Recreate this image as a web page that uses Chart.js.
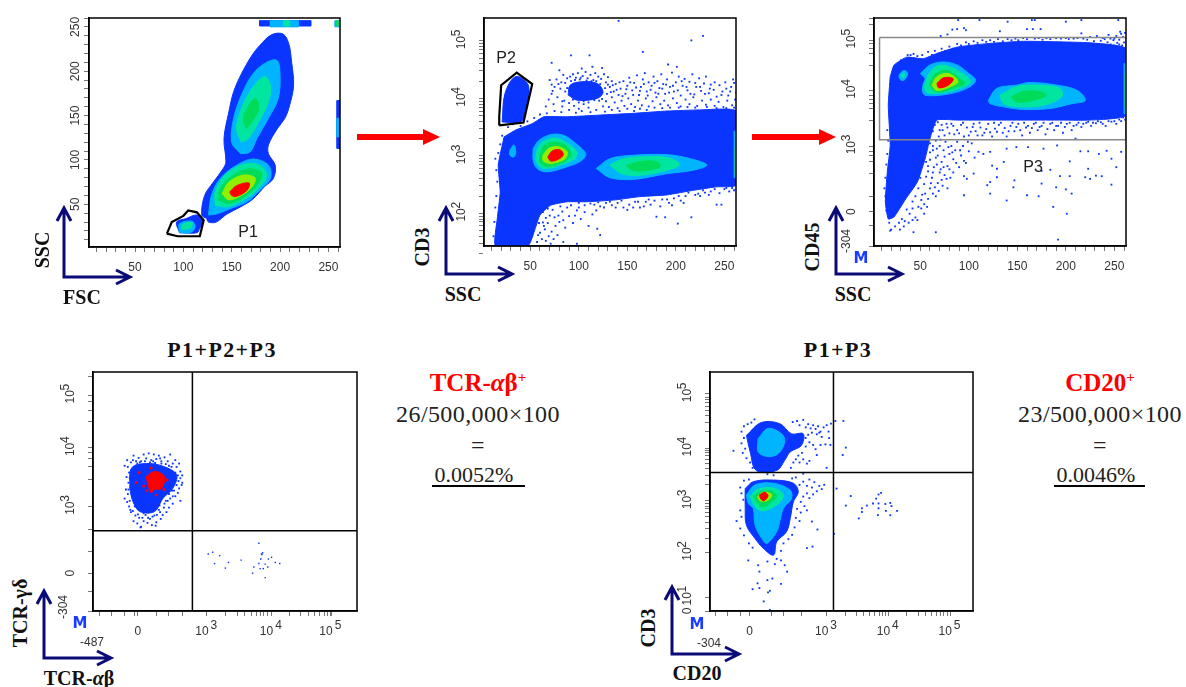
<!DOCTYPE html>
<html>
<head>
<meta charset="utf-8">
<script src="https://cdn.jsdelivr.net/npm/chart.js@4/dist/chart.umd.js"></script>
<style>
html,body{margin:0;padding:0;background:#fff;width:1186px;height:687px;overflow:hidden}
.plot{position:absolute}
.t{position:absolute;white-space:nowrap;transform-origin:center}
.ax{font:bold 20px "Liberation Serif",serif;color:#111}
.title{font:bold 22px "Liberation Serif",serif;color:#111;letter-spacing:1.4px}
.hit{font:bold 25px "Liberation Serif",serif;color:#f00}
.hit sup{font-size:15px;line-height:0}
.calc{font:24px "Liberation Serif",serif;color:#222;letter-spacing:.4px}
.calc2{font:22px "Liberation Serif",serif;color:#222}
.gate{font:16px "Liberation Sans",sans-serif;color:#222}
.small{font:12px "Liberation Sans",sans-serif;color:#333}
.m{font:bold 15px "DejaVu Sans",sans-serif;color:#1a3cff}
svg{position:absolute;left:0;top:0}
</style>
</head>
<body>
<svg width="1186" height="687">
  <g fill="none" stroke="#0a0a78" stroke-width="3">
    <path d="M64 208V277H129M57 221L64 208L71 221M116 270L130 277L116 284"/>
    <path d="M446 208V274H511M439 221L446 208L453 221M498 267L512 274L498 281"/>
    <path d="M836 208V274H901M829 221L836 208L843 221M888 267L902 274L888 281"/>
    <path d="M44 591V658H110M37 604L44 591L51 604M97 651L111 658L97 665"/>
    <path d="M672 587V654H738M665 600L672 587L679 600M725 647L739 654L725 661"/>
  </g>
  <g fill="#f00">
    <path d="M357 134H423V129L440 137L423 145V140H357Z"/>
    <path d="M752 134H819V129L836 137L819 145V140H752Z"/>
  </g>
  <g stroke="#000" stroke-width="2">
    <path d="M432 486H525M1054 486H1145"/>
  </g>
</svg>
<div class="plot" style="left:39px;top:12px;width:307px;height:271px"><canvas id="plot1"></canvas></div>
<div class="plot" style="left:434px;top:12px;width:308px;height:270px"><canvas id="plot2"></canvas></div>
<div class="plot" style="left:824px;top:12px;width:308px;height:270px"><canvas id="plot3"></canvas></div>
<div class="plot" style="left:43px;top:366px;width:320px;height:281px"><canvas id="plot4"></canvas></div>
<div class="plot" style="left:660px;top:366px;width:319px;height:281px"><canvas id="plot5"></canvas></div>
<div id="texts"></div>
<script>
// shared tick positions
const scatterTicks = [10,20,30,40,50,60,70,80,90,100,110,120,130,140,150,160,170,180,190,200,210,220,230,240,250,260];
const scatterLabels = {50:'50',100:'100',150:'150',200:'200',250:'250'};
const decadeSteps = [0.3,0.48,0.6,0.7,0.78,0.85,0.9,0.95];

// plot 1: SSC vs FSC
const p1Blue = [[124,34],[119,38],[122,60],[131,75],[141,90],[144,98],[142,124],[147,154],[152,177],[160,197],[171,218],[179,229],[191,241],[203,242],[209,231],[212,210],[214,184],[210,162],[205,147],[197,135],[188,117],[188,107],[195,94],[193,79],[184,70],[172,56],[159,47],[145,39],[134,30],[126,30]];
const p1UpperCyan = [[159,107],[150,120],[152,147],[160,173],[172,197],[186,210],[197,212],[200,195],[198,169],[188,147],[176,124],[169,109]];
const p1UpperSpring = [[160,120],[155,135],[160,158],[172,182],[184,194],[190,184],[188,165],[178,143],[167,124]];
const p1UpperGreen = [[165,135],[162,147],[169,164],[175,169],[178,158],[172,145]];
const p1LowerCyan = [[126,38],[129,60],[138,79],[155,94],[172,101],[188,94],[190,79],[179,66],[166,53],[148,45],[134,39]];
const p1LowerSpring = [[133,49],[133,64],[143,83],[162,95],[179,94],[186,83],[176,66],[159,53],[145,47]];
const p1LowerGreen = [[136,55],[138,68],[152,83],[169,90],[181,85],[176,71],[162,58],[147,51]];
const p1LowerLime = [[140,62],[147,75],[162,83],[174,80],[172,71],[160,60],[147,55]];
const p1LowerRed = [[148,64],[155,71],[168,74],[166,66],[155,59],[150,60]];
const p1SmallBlue = [[96,18],[93,30],[103,34],[114,38],[121,32],[117,23],[114,18]];
const p1SmallCyan = [[96,18],[96,28],[109,31],[112,24],[107,18]];
const p1SmallGreen = [[98,22],[100,28],[109,29],[107,23]];
const p1TopBlue = [[179,251],[232,251],[232,257],[179,257]];
const p1TopCyan = [[190,250],[219,250],[219,257],[190,257]];
const p1TopGreen = [[204,251],[210,251],[210,257],[204,257]];
const p1EdgeBlue = [[259,113],[262,113],[262,167],[259,167]];
const p1EdgeCyan = [[259,126],[261,126],[261,147],[259,147]];
const p1CornerCyan = [[257,250],[262,250],[262,257],[257,257]];
const p1CornerGreen = [[259,251],[262,251],[262,257],[259,257]];
const p1Gate = [[83,17],[88,30],[100,37],[105,43],[114,41],[121,32],[117,14],[94,14],[83,17]];

// plot 2: CD3 vs SSC (y in display decades)
const p2Blue = [[23,3.33],[35,3.45],[52,3.56],[64,3.68],[88,3.68],[122,3.71],[156,3.74],[191,3.78],[225,3.8],[262,3.78],[262,2.49],[242,2.46],[218,2.4],[191,2.32],[163,2.29],[136,2.23],[108,2.2],[88,2.2],[71,2.14],[60,1.97],[55,1.73],[48,1.44],[14,1.44],[16,1.91],[19,2.37],[17,2.84]];
const p2CloudBlue = [[89,4.06],[91,4.23],[103,4.29],[119,4.26],[125,4.11],[119,4],[98,3.97]];
const p2GateFill = [[21,3.59],[24,4.09],[35,4.38],[48,4.23],[45,3.77],[40,3.59]];
const p2Gate = [[18,3.53],[18,3.68],[20,4.23],[36,4.45],[52,4.25],[43,3.58],[18,3.53]];
const p2SpotCyan = [[29,3.1],[33,3.19],[35,3.07],[33,2.98],[29,3.01]];
const p2ACyan = [[53,3.13],[59,3.27],[71,3.37],[84,3.36],[95,3.24],[107,3.04],[103,2.92],[88,2.81],[67,2.72],[57,2.78],[53,2.92]];
const p2ASpring = [[57,3.1],[62,3.23],[74,3.31],[86,3.24],[98,3.07],[96,2.95],[81,2.84],[64,2.78],[56,2.9]];
const p2AGreen = [[60,3.04],[65,3.19],[77,3.24],[88,3.16],[92,3.01],[81,2.87],[67,2.81],[60,2.9]];
const p2ALime = [[63,3.01],[69,3.13],[79,3.16],[88,3.07],[86,2.95],[76,2.88],[69,2.87],[63,2.92]];
const p2ARed = [[68,2.98],[73,3.09],[81,3.1],[84,3.02],[79,2.94],[71,2.91]];
const p2BCyan = [[118,2.78],[132,2.95],[156,3.01],[191,3.02],[215,2.95],[232,2.84],[218,2.75],[191,2.69],[156,2.59],[132,2.62]];
const p2BSpring = [[132,2.84],[144,2.94],[163,2.98],[191,2.97],[204,2.85],[191,2.75],[163,2.66],[144,2.69]];
const p2BGreen = [[149,2.83],[163,2.9],[180,2.9],[184,2.81],[167,2.74],[155,2.75]];
const p2EdgeCyan = [[260,3.43],[262,3.43],[262,2.62],[260,2.62]];
const p2EdgeGreen = [[261,3.13],[262,3.13],[262,2.66],[261,2.66]];
const p2Dots = [[141,5.35],[216,5.01],[228,5.09],[166,4.81],[92,4.75],[111,4.75],[72,4.62],[192,4.59],[201,4.55],[114,4.55],[103,4.52],[80,4.49],[124,4.53],
[70,4.32],[72,4.24],[75,4.2],[77,4.33],[81,4.17],[82,4.28],[84,4.41],[86,4.12],[88,4.35],[91,4.38],[94,4.42],[97,4.36],[99,4.44],[101,4.33],[104,4.39],[107,4.46],[109,4.35],[112,4.41],[115,4.32],[117,4.44],[120,4.38],[123,4.34],[126,4.42],[128,4.28],[130,4.37],[132,4.2],[134,4.3],[136,4.12],[138,4.25],[141,4.06],[143,4.17],[146,4.3],[148,4.08],[150,4.22],[152,4.36],[155,4.14],[157,4.27],[160,4.4],[162,4.06],[164,4.2],[166,4.33],[168,4.44],[170,4.12],[172,4.28],[175,4.22],[177,4.38],[179,4.1],[181,4.3],[183,4.18],[185,4.42],[187,4.25],[189,4.08],[191,4.33],[194,4.2],[196,4.45],[198,4.12],[200,4.28],[203,4.38],[205,4.05],[207,4.22],[209,4.34],[212,4.14],[214,4.29],[217,4.42],[219,4.07],[221,4.2],[224,4.35],[226,4.13],[229,4.26],[231,4.38],[234,4.09],[236,4.24],[239,4.15],[242,4.03],[245,4.23],[248,4.12],[251,4.28],[254,4.05],[257,4.2],[260,4.27],[262,4.1],
[66,3.86],[69,3.98],[72,4.08],[74,3.9],[78,4.02],[83,3.86],[85,3.96],[95,3.87],[100,3.82],[105,3.9],[110,3.84],[125,3.86],[128,3.95],[131,3.85],[134,4.02],[137,3.93],[140,3.83],[144,3.96],[147,3.87],[151,4.0],[154,3.9],[158,3.85],[161,3.96],[165,3.88],[169,4.0],[172,3.86],[176,3.95],[180,4.02],[184,3.9],[188,3.96],[192,3.88],[197,4.0],[201,3.92],[205,3.86],[210,3.98],[214,3.9],[218,4.02],[222,3.87],[227,3.96],[231,3.89],[236,3.98],[240,3.87],[244,3.94],[249,3.85],[253,3.96],[258,3.88],[261,3.98],
[116,2.15],[122,2.12],[128,2.18],[134,2.14],[140,2.18],[146,2.1],[152,2.15],[158,2.2],[163,2.1],[169,2.2],[174,2.15],[180,1.94],[186,2.24],[189,1.93],[193,2.18],[198,2.26],[202,1.82],[205,2.22],[210,2.3],[216,1.93],[220,2.32],[225,2.3],[230,2.36],[236,2.38],[242,2.15],[247,2.15],[250,2.42],[255,2.38],[260,2.4],
[122,1.62],[119,1.73],[98,1.47],[84,1.5],[71,1.47],[62,1.55],[65,1.72],[68,1.83],[72,1.68],[75,1.93],[78,1.62],[80,1.85],[83,2.03],[86,1.75],[90,1.95],[94,1.83],[98,2.05],[102,1.9],[106,2.02],[110,1.78],[114,1.98],[118,2.05],[57,1.5],[59,1.83],[63,2.02],[68,2.08],[56,1.95],[60,2.1]];
const p2DotsDense = [[73,4.13],[79,4.25],[83,3.95],[86,4.27],[88,4.18],[90,3.92],[92,4.3],[94,3.98],[96,4.32],[100,3.93],[102,4.36],[105,3.95],[108,4.31],[110,3.93],[113,4.3],[116,3.97],[118,4.3],[121,3.96],[122,4.25],[124,3.99],[127,4.18],[129,4.08],[130,4.24],[133,4.11],[135,4.23],[139,4.15],[142,4.28],[145,4.04],[149,4.16],[153,4.28],[156,4.06],[159,4.19],[163,4.13],[167,4.25],[171,4.05],[174,4.15],[178,4.27],[182,4.08],[186,4.17],[190,4.24],[193,4.1],[197,4.22],[202,4.14],[206,4.3],[211,4.2],[215,4.08],[220,4.27],[225,4.2],[230,4.08],[235,4.17],[240,4.28],[247,4.06],[252,4.17],[256,4.12],[259,4.33],
[67,3.74],[75,3.78],[82,3.76],[90,3.8],[97,3.75],[103,3.78],[112,3.76],[118,3.8],[127,3.77],[134,3.8],[142,3.78],[150,3.82],[157,3.78],[163,3.82],[170,3.8],[178,3.84],[186,3.83],[194,3.84],[203,3.84],[212,3.85],[220,3.84],[232,3.85],[242,3.83],[252,3.83],[260,3.84],
[100,2.18],[106,2.14],[112,2.17],[120,2.19],[126,2.1],[132,2.2],[138,2.1],[144,2.22],[150,2.06],[156,2.1],[161,2.2],[167,2.12],[172,2.24],[178,2.22],[184,2.12],[191,2.24],[196,2.14],[203,2.3],[208,2.18],[213,2.36],[223,2.34],[228,2.4],[234,2.32],[240,2.42],[245,2.35],[252,2.44],[258,2.44],
[64,1.78],[66,1.92],[70,1.96],[73,2.06],[76,1.78],[79,1.96],[81,2.12],[84,1.88],[88,2.1],[92,2.14],[96,1.96],[100,2.1],[60,1.66],[63,1.84],[69,1.6],[74,1.55],[58,1.62],[66,1.52],[12,1.6],[13,1.85],[14,2.1],[15,2.3],[16,2.55],[15,2.75],[14,2.95],[17,3.05],[19,3.2],[21,3.35],[27,3.5],[32,3.55],[40,3.52],[47,3.6],[54,3.66],[60,3.72]];

// plot 3: CD45 vs SSC
const p3Blue = [[19,4.31],[23,4.53],[36,4.68],[53,4.65],[67,4.75],[88,4.87],[105,4.91],[122,4.94],[156,4.98],[191,4.97],[225,4.95],[262,4.84],[262,3.58],[225,3.49],[191,3.49],[156,3.49],[122,3.49],[88,3.49],[67,3.49],[60,3.14],[55,2.76],[47,2.32],[35,2],[23,1.66],[17,1.62],[14,1.94],[16,2.51],[19,3.01],[17,3.77]];
const p3SpotCyan = [[28,4.34],[33,4.43],[37,4.37],[33,4.24],[29,4.26]];
const p3SpotGreen = [[30,4.34],[33,4.38],[34,4.32],[32,4.29]];
const p3ACyan = [[50,4.37],[60,4.53],[74,4.59],[88,4.53],[98,4.4],[107,4.24],[98,4.09],[81,3.99],[60,3.95],[53,3.99],[53,4.18],[55,4.27]];
const p3ASpring = [[54,4.12],[60,4.4],[71,4.53],[88,4.43],[102,4.22],[91,4.09],[74,4.01],[57,4.01]];
const p3AGreen = [[59,4.15],[64,4.34],[77,4.43],[91,4.27],[96,4.18],[84,4.09],[67,4.02]];
const p3ALime = [[62,4.15],[67,4.31],[79,4.37],[89,4.22],[81,4.12],[67,4.05]];
const p3ARed = [[67,4.18],[74,4.29],[84,4.27],[79,4.15],[69,4.1]];
const p3BCyan = [[120,3.86],[129,4.09],[149,4.15],[163,4.2],[191,4.15],[212,4.05],[220,3.86],[206,3.8],[184,3.71],[156,3.69],[136,3.74],[122,3.8]];
const p3BSpring = [[132,3.96],[149,4.12],[170,4.15],[194,4.09],[196,3.93],[177,3.77],[153,3.74],[136,3.8]];
const p3BGreen = [[144,3.93],[156,4.03],[173,4.03],[180,3.96],[166,3.86],[149,3.83]];
const p3EdgeCyan = [[260,4.56],[262,4.56],[262,3.61],[260,3.61]];
const p3EdgeGreen = [[261,4.37],[262,4.37],[262,3.71],[261,3.71]];
const p3Gate = [[8,5.05],[262,5.05],[262,3.12],[8,3.12],[8,5.05]];
const p3Dots = [[89,5.38],[111,5.38],[140,5.35],[165,5.38],[168,5.38],[200,5.35],[216,5.38],[254,5.38],[83,5.2],[88,5.21],[95,5.23],[97,5.19],[160,5.21],[166,5.21],[174,5.21],[132,5.17],[216,5.13],[256,5.16],[71,5.08],[78,5.11],
[225,5.06],[232,5.08],[238,5.04],[244,5.1],[250,5.03],[252,5.08],[257,5.12],[259,5.06],[261,5.14],[236,4.99],[246,4.92],[253,4.95],[258,4.9],[240,4.88],[249,5],[255,5.01],[229,4.98],[222,5.01],[212,5.04],[203,5.02],[195,5.03],[184,5.02],[176,5.01],[168,5.03],[160,5.02],[151,5],[144,5],[135,4.98],[126,4.97],[118,4.97],[109,4.95],[100,4.93],[92,4.9],[84,4.84],[76,4.8],[62,4.72],[47,4.7],[40,4.72],[30,4.62],
[20,3.3],[22,3.1],[19,3.45],[24,3.25],[26,3.05],[28,3.4],[30,3.2],[68,3.45],[70,3.3],[72,3.4],[75,3.2],[78,3.35],[82,3.42],[85,3.22],[88,3.3],[92,3.4],[95,3.18],[98,3.35],[102,3.27],[105,3.42],[109,3.2],[112,3.35],[116,3.25],[120,3.42],[124,3.18],[127,3.33],[131,3.4],[135,3.25],[139,3.18],[143,3.38],[147,3.28],[151,3.42],[155,3.2],[159,3.35],[163,3.25],[167,3.42],[171,3.3],[175,3.38],[179,3.22],[184,3.42],[188,3.3],[192,3.38],[197,3.25],[201,3.42],[206,3.3],[211,3.4],[216,3.36],[221,3.44],[226,3.38],[231,3.43],[236,3.45],[241,3.38],[247,3.46],[252,3.42],[257,3.47],[261,3.5],
[43,1.37],[66,1.37],[192,1.23],[201,1.72],[187,1.85],[172,2.05],[160,2.07],[139,1.97],[190,2.22],[200,2.18],[206,2.1],[122,2.1],[95,2.07],[119,2.26],[147,2.35],[175,2.29],[194,2.43],[204,2.43],[220,2.41],[225,2.38],[231,2.44],[237,2.43],[247,2.27],[252,2.6],[223,2.57],[247,2.76],[242,2.91],[257,2.89],[234,2.85],[223,2.9],[215,2.9],[204,2.71],[184,2.55],[175,2.53],[129,2.57],[124,2.63],[105,2.48],[98,2.38],[95,2.43],[122,2.32],[146,2.22],[129,2.41],[136,2.7],[115,2.85],[110,2.89],[122,2.89],[139,2.95],[149,2.98],[161,2.98],[177,2.95],[191,3.01],[210,3.14],
[60,3.05],[63,2.92],[66,3.1],[68,2.82],[70,3],[72,2.7],[74,2.92],[76,3.08],[78,2.62],[80,2.85],[82,3],[84,2.75],[86,2.92],[88,3.08],[90,2.6],[92,2.82],[94,3],[97,2.68],[100,2.9],[103,3.05],[106,2.78],[56,2.7],[58,2.52],[60,2.74],[62,2.4],[64,2.6],[66,2.78],[68,2.3],[70,2.5],[72,2.36],[75,2.45],[78,2.2],[81,2.4],[48,2.2],[50,2.4],[52,2.08],[54,2.28],[56,2.42],[58,2],[60,2.2],[63,2.1],[42,1.95],[45,2.05],[48,1.85],[51,1.98],[54,1.9],[57,1.85],[66,2.05],[36,1.8],[39,1.72],[42,1.82],[45,1.65],[28,1.55],[31,1.62],[34,1.58],[20,1.42],[24,1.48],[18,1.55]];
const p3DotsDense = [[63,3.28],[65,3.4],[69,3.18],[73,3.3],[77,3.42],[80,3.24],[84,3.38],[90,3.24],[94,3.44],[100,3.2],[104,3.36],[107,3.28],[111,3.44],[114,3.2],[118,3.32],[122,3.26],[126,3.44],[129,3.27],[133,3.44],[137,3.34],[141,3.28],[145,3.44],[149,3.36],[153,3.3],[157,3.44],[161,3.38],[165,3.34],[169,3.44],[173,3.36],[177,3.44],[181,3.32],[186,3.44],[190,3.38],[195,3.44],[199,3.36],[204,3.44],[208,3.38],[213,3.44],[218,3.42],[223,3.46],[228,3.44],[233,3.47],[238,3.42],[244,3.47],[250,3.47],[255,3.5],[259,3.54],
[63,3.0],[67,2.95],[71,3.12],[75,2.8],[79,2.98],[83,2.88],[87,2.68],[91,2.92],[95,2.72],[99,3.08],[60,2.88],[58,2.62],[63,2.5],[67,2.65],[71,2.56],[74,2.6],[77,2.38],[80,2.56],[84,2.5],[61,2.3],[65,2.22],[69,2.15],[73,2.25],[55,2.1],[51,1.82],[54,1.72],[47,1.6],[42,1.6],[38,1.55],[33,1.48],[29,1.42],[13,2.2],[14,2.4],[15,2.65],[16,2.85],[17,3.1],[16,3.3],[14,2.05],[15,1.78],[19,1.4],
[37,4.72],[43,4.74],[52,4.72],[58,4.78],[65,4.8],[72,4.84],[80,4.88],[88,4.93],[97,4.96],[105,4.98],[114,5],[122,5],[130,5.02],[140,5.02],[148,5.03],[156,5.04],[172,5.04],[180,5.04],[190,5.04],[200,5.04],[208,5.03],[218,5.03],[240,5.02],[246,5.03],[233,4.93],[243,4.96],[250,4.9],[255,4.92],[260,4.96]];

// plot 4: TCR-gamma-delta vs TCR-alpha-beta
const p4Blue = [[1.78,3.32],[1.81,3.68],[2.04,3.76],[2.31,3.71],[2.52,3.56],[2.46,3.32],[2.31,3.15],[2.17,2.91],[1.94,2.91],[1.83,3.09]];
const p4Red = [[2.04,3.53],[2.17,3.62],[2.33,3.53],[2.28,3.32],[2.17,3.3],[2.12,3.24],[2.07,3.38]];
const p4Dots = [[1.7,3.72],[1.74,3.82],[1.8,3.78],[1.84,3.9],[1.88,3.8],[1.92,3.86],[1.96,3.8],[2,3.92],[2.04,3.85],[2.08,3.94],[2.12,3.82],[2.16,3.92],[2.2,3.84],[2.24,3.9],[2.28,3.8],[2.33,3.87],[2.38,3.8],[2.42,3.92],[2.46,3.76],[2.5,3.82],[2.52,3.7],[2.56,3.76],[2.58,3.62],[2.61,3.55],[2.58,3.5],[2.61,3.42],[2.56,3.32],[2.6,3.38],[2.54,3.24],[2.58,3.1],[2.5,3.18],[2.46,3.05],[2.42,3.14],[2.4,2.98],[2.36,2.9],[2.33,3.05],[2.3,2.85],[2.27,2.78],[2.24,2.94],[2.2,2.72],[2.17,2.84],[2.13,2.67],[2.1,2.78],[2.06,2.71],[2.03,2.85],[2,2.74],[1.96,2.64],[1.93,2.8],[1.9,2.7],[1.87,2.84],[1.84,2.74],[1.8,2.9],[1.77,3],[1.74,3.08],[1.7,3.14],[1.75,3.22],[1.72,3.3],[1.76,3.42],[1.73,3.52],[1.77,3.6],[1.79,2.94],[1.95,2.63],[2.19,2.66],[2.45,3.28],[2.48,3.42],[2.55,3.45],[2.4,3.72],[2.28,3.76],[2.15,3.8],[1.98,3.73],[1.88,3.72],[1.84,3.6],[1.82,3.48],[1.8,3.35],[1.82,3.2],[1.86,3],[2,2.88],[2.25,3.02],[2.35,3.1],
[1.75,3.7],[1.83,3.82],[1.9,3.76],[1.94,3.78],[2.02,3.8],[2.1,3.78],[2.18,3.77],[2.26,3.85],[2.35,3.75],[2.44,3.7],[2.5,3.6],[2.54,3.55],[2.5,3.5],[2.52,3.38],[2.48,3.28],[2.46,3.18],[2.4,3.22],[2.38,3.1],[2.32,2.98],[2.26,2.9],[2.21,2.85],[2.14,2.82],[2.07,2.8],[1.98,2.8],[1.91,2.86],[1.83,2.92],[1.78,3.1],[1.76,3.3],[1.78,3.5]];
const p4Reds = [[1.88,3.42],[1.93,3.6],[2,3.36],[2.05,3.28],[2.2,3.2],[2.37,3.47],[2.32,3.3],[2.12,3.68]];
const p4Lower = [[3.02,2.16],[3.09,2.19],[3.2,2.13],[3.12,1.99],[3.34,2.01],[3.29,1.91],[3.54,2.05],[3.82,2.35],[3.88,2.18],[3.86,2.16],[3.87,2.15],[3.85,2.07],[3.82,1.99],[3.74,1.93],[3.72,1.82],[3.84,1.9],[3.89,1.9],[3.96,1.93],[3.92,1.98],[3.97,2.07],[4.02,2.1],[4.08,2.01],[4.15,1.99],[3.92,1.74]];
const p4GateV = [[2.77,1.15],[2.77,5.38]];
const p4GateH = [[1.2,2.57],[5.37,2.57]];

// plot 5: CD3 vs CD20
const p5UpperBlue = [[1.7,4.23],[1.94,4.47],[2.24,4.45],[2.43,4.26],[2.62,4.26],[2.59,4.04],[2.41,3.92],[2.32,3.76],[2.19,3.57],[1.86,3.57],[1.76,3.92]];
const p5UpperCyan = [[1.89,4.17],[2.05,4.36],[2.27,4.26],[2.32,4.11],[2.22,3.89],[2.05,3.83],[1.89,3.92]];
const p5LowerBlue = [[1.68,3.23],[1.81,3.36],[2.14,3.39],[2.46,3.33],[2.54,3.17],[2.46,2.98],[2.41,2.67],[2.35,2.42],[2.19,2.23],[2.14,1.98],[1.97,2.11],[1.84,2.29],[1.7,2.54],[1.68,2.86]];
const p5LowerCyan = [[1.7,3.11],[1.84,3.3],[2.14,3.33],[2.41,3.2],[2.43,3.04],[2.3,2.86],[2.24,2.61],[2.19,2.42],[2.03,2.2],[1.95,2.29],[1.84,2.54],[1.81,2.86],[1.73,2.95]];
const p5Spring = [[1.76,3.08],[1.89,3.22],[2.14,3.24],[2.3,3.11],[2.19,2.92],[1.97,2.81],[1.84,2.89]];
const p5Green = [[1.81,3.08],[1.95,3.18],[2.11,3.18],[2.19,3.09],[2.11,2.98],[1.95,2.89]];
const p5Yellow = [[1.88,3.08],[1.97,3.16],[2.11,3.12],[2.05,3.01],[1.92,3]];
const p5Red = [[1.91,3.11],[2,3.16],[2.05,3.09],[1.98,3],[1.93,3.04]];
const p5Dots = [[1.49,3.94],[1.83,4.53],[3.14,4.5],[3.27,4.5],[3.31,4],[3.26,3.86],[3,3.62],[2.62,3.51],[3.16,3.23],[3.39,3.09],[3.31,2.91],[3.88,3.15],[3.84,3.12],[3.8,3.04],[3.84,2.95],[3.84,2.86],[3.83,2.73],[3.75,2.95],[3.65,2.91],[3.57,2.86],[3.57,2.79],[3.52,2.67],[3.95,2.94],[4.03,2.96],[4.05,2.9],[4.14,2.81],[3.96,2.81],[4.03,2.73],[3.12,2.38],[2.85,2.46],[2.76,2.61],[2.77,2.14],[2.68,2.11],
[1.73,1.88],[1.91,1.67],[2.04,1.86],[2.16,1.81],[2.19,1.91],[2.26,1.88],[2.32,1.79],[2.36,1.67],[1.89,1.79],[2.04,1.51],[2.12,1.54],[1.88,1.45],[2.26,1.44],[1.8,1.34],[1.91,1.36],[2.08,1.31],[2.05,1.28],[1.98,1.11],[2.08,0.95],
[2.45,4.48],[2.52,4.5],[2.56,4.42],[2.62,4.52],[2.66,4.38],[2.7,4.44],[2.74,4.36],[2.78,4.42],[2.82,4.35],[2.86,4.4],[2.9,4.3],[2.95,4.38],[3,4.42],[3.03,4.3],[3.07,4.45],[3.04,4.18],[3.06,4.05],[2.98,4.06],[2.92,4.2],[2.88,4.28],[2.84,4.25],[2.76,4.28],[2.7,4.24],[2.66,4.18],[2.72,4.1],[2.78,4.05],[2.66,4.02],[2.6,3.9],[2.54,3.85],[2.62,3.78],[2.56,3.72],[2.5,3.78],[2.46,3.72],[2.42,3.62],[2.82,3.97],[2.84,3.86],[2.68,3.7],[2.72,3.75],[2.9,4.05],
[1.62,4.3],[1.66,4.4],[1.72,4.44],[1.78,4.47],[1.66,4.18],[1.62,4.08],[1.68,3.98],[1.64,3.9],[1.7,3.8],[1.76,3.72],[1.8,3.62],[1.86,3.65],[2.04,3.5],[2.14,3.48],[2.2,3.62],
[2.56,3.3],[2.62,3.36],[2.68,3.28],[2.72,3.4],[2.76,3.25],[2.8,3.35],[2.84,3.18],[2.88,3.28],[2.92,3.22],[2.96,3.3],[2.78,3.12],[2.72,3.05],[2.68,3.14],[2.62,3.08],[2.58,2.98],[2.64,2.9],[2.68,2.82],[2.58,2.78],[2.52,2.85],[2.5,2.68],[2.56,2.62],[2.48,2.5],[2.44,2.36],[2.38,2.28],[2.3,2.2],[2.26,2.06],[1.8,2.12],[1.74,2.2],[1.66,2.35],[1.6,2.48],[1.54,2.62],[1.62,2.7],[1.6,2.82],[1.65,3.02],[1.62,3.14],[1.6,3.25],[1.66,3.38],[1.74,3.4],[2.44,3.42],[2.5,3.44]];
const p5GateV = [[3.11,0.93],[3.11,5.42]];
const p5GateH = [[1.11,3.53],[5.37,3.53]];

// tick positions on the display-decade axes, exponents drawn beside the 10
const p2YExp = {2:'2',3:'3',4:'4',5:'5'};
const p3YExp = {3:'3',4.05:'4',5:'5'};
const p4XExp = {3:'3',4.02:'4',4.96:'5'};
const p4YExp = {3:'3',4.04:'4',4.97:'5'};
const p5XExp = {3:'3',4:'4',5:'5'};
const p5YExp = {1.19:'1',2.03:'2',3:'3',3.99:'4',5.01:'5'};

// density colours, low to high
const blue = '#0a35ff', cyan = '#00b4ff', spring = '#00e6a0', green = '#00dc5a', lime = '#8ef000', red = '#ff0000';

function area(pts, color, tension) {
    return {
        data: pts.concat([pts[0]]).map(p => ({x: p[0], y: p[1]})),
        showLine: true, fill: 'shape', backgroundColor: color,
        borderColor: color, borderWidth: 1, pointRadius: 0, tension: tension === undefined ? 0.35 : tension
    };
}
function bar(pts, color) {
    return area(pts, color, 0);
}
function dots(pts, color, size) {
    return {
        data: pts.map(p => ({x: p[0], y: p[1]})),
        showLine: false, pointStyle: 'rect', pointRadius: size || 1.3,
        pointBackgroundColor: color, pointBorderWidth: 0
    };
}
function gate(pts, color, width) {
    return {
        data: pts.map(p => ({x: p[0], y: p[1]})),
        showLine: true, fill: false, borderColor: color, borderWidth: width,
        pointRadius: 0, tension: 0
    };
}
function withMinor(majors, from, to) {
    let all = majors.slice();
    for (let d = from; d < to; d++) decadeSteps.forEach(s => all.push(d + s));
    return all;
}
function tens(exps, gap, extra) {
    const out = Object.assign({}, extra);
    Object.keys(exps).forEach(k => { out[k] = '10' + gap; });
    return out;
}
function axis(range, ticks, labels, rotate, pad) {
    const sorted = ticks.slice().sort((a, b) => a - b);
    return {
        type: 'linear', min: range[0], max: range[1],
        border: {color: '#000', width: 1.5},
        grid: {drawOnChartArea: false, drawTicks: true, tickLength: 5, tickColor: '#777', tickWidth: 1},
        afterBuildTicks: s => { s.ticks = sorted.map(v => ({value: v})); },
        afterFit: s => {
            if (rotate) s.width = 50; else s.height = 36;
            s.paddingTop = s.paddingBottom = s.paddingLeft = s.paddingRight = 0;
        },
        ticks: {
            autoSkip: false, color: '#333', padding: pad,
            font: {family: '"Liberation Sans"', size: 12},
            minRotation: rotate ? 90 : 0, maxRotation: rotate ? 90 : 0,
            crossAlign: rotate ? 'center' : 'near',
            callback: v => (labels[v] !== undefined ? labels[v] : '')
        }
    };
}
const boxBorder = {
    id: 'boxBorder',
    afterDatasetsDraw(chart) {
        const a = chart.chartArea, c = chart.ctx;
        c.save(); c.strokeStyle = '#000'; c.lineWidth = 1.5;
        c.strokeRect(a.left, a.top, a.right - a.left, a.bottom - a.top);
        c.restore();
    }
};
function makePlot(id, datasets, x, y, xExp, yExp) {
    // later datasets go on top
    datasets.forEach((d, i) => { d.order = -i; });
    const exponents = {
        id: 'exponents',
        afterDraw(chart) {
            const c = chart.ctx, a = chart.chartArea;
            c.save();
            c.fillStyle = '#333';
            c.font = '12px "Liberation Sans"';
            c.textAlign = 'center';
            c.textBaseline = 'middle';
            Object.keys(xExp || {}).forEach(k => {
                c.fillText(xExp[k], chart.scales.x.getPixelForValue(+k) + 7, a.bottom + 15);
            });
            Object.keys(yExp || {}).forEach(k => {
                c.save();
                c.translate(a.left - 27, chart.scales.y.getPixelForValue(+k) - 8);
                c.rotate(-Math.PI / 2);
                c.fillText(yExp[k], 0, 0);
                c.restore();
            });
            c.restore();
        }
    };
    new Chart(document.getElementById(id), {
        type: 'scatter',
        data: {datasets},
        plugins: [boxBorder, exponents],
        options: {
            responsive: true, maintainAspectRatio: false, animation: false,
            layout: {autoPadding: false, padding: {top: 6, right: 6}},
            plugins: {legend: {display: false}, tooltip: {enabled: false}},
            scales: {x, y}
        }
    });
}

makePlot('plot1', [
    area(p1Blue, blue), area(p1UpperCyan, cyan), area(p1UpperSpring, spring), area(p1UpperGreen, green),
    area(p1LowerCyan, cyan), area(p1LowerSpring, spring), area(p1LowerGreen, green), area(p1LowerLime, lime), area(p1LowerRed, red),
    area(p1SmallBlue, blue), area(p1SmallCyan, cyan), area(p1SmallGreen, spring),
    bar(p1TopBlue, blue), bar(p1TopCyan, cyan), bar(p1TopGreen, spring),
    bar(p1EdgeBlue, blue), bar(p1EdgeCyan, cyan), bar(p1CornerCyan, cyan), bar(p1CornerGreen, green),
    gate(p1Gate, '#000', 2.2)
], axis([2.4, 262], scatterTicks, scatterLabels, false, 8),
   axis([1.9, 260], scatterTicks, scatterLabels, true, -2));

makePlot('plot2', [
    area(p2Blue, blue, 0.15), area(p2CloudBlue, blue), area(p2GateFill, blue), dots(p2Dots, blue), dots(p2DotsDense, blue),
    area(p2SpotCyan, cyan),
    area(p2ACyan, cyan), area(p2ASpring, spring), area(p2AGreen, green), area(p2ALime, lime), area(p2ARed, red),
    area(p2BCyan, cyan), area(p2BSpring, spring), area(p2BGreen, green),
    bar(p2EdgeCyan, cyan), bar(p2EdgeGreen, green),
    gate(p2Gate, '#000', 2.2)
], axis([2.3, 262], scatterTicks, scatterLabels, false, 8),
   axis([1.43, 5.4], withMinor([2, 3, 4, 5], 1, 5), tens(p2YExp, '\u00a0'), true, 9), null, p2YExp);

makePlot('plot3', [
    area(p3Blue, blue, 0.15), dots(p3Dots, blue), dots(p3DotsDense, blue),
    area(p3SpotCyan, cyan), area(p3SpotGreen, spring),
    area(p3ACyan, cyan), area(p3ASpring, spring), area(p3AGreen, green), area(p3ALime, lime), area(p3ARed, red),
    area(p3BCyan, cyan), area(p3BSpring, spring), area(p3BGreen, green),
    bar(p3EdgeCyan, cyan), bar(p3EdgeGreen, green),
    gate(p3Gate, '#888', 1.5)
], axis([2.3, 262], scatterTicks, scatterLabels, false, 8),
   axis([1.11, 5.42], [1.76, 2.05, 1.5, 1.11, 3, 4.05, 5, 2.48, 2.7, 2.82, 2.9, 3.48, 3.7, 3.8, 3.88, 3.95, 4.53, 4.75, 4.85, 4.93, 5.3, 5.42], tens(p3YExp, '\u00a0', {1.76: '0'}), true, 9), null, p3YExp);

makePlot('plot4', [
    area(p4Blue, blue), dots(p4Dots, blue), dots(p4Lower, blue, 1), area(p4Red, red), dots(p4Reds, red, 1.8),
    gate(p4GateV, '#000', 1.5), gate(p4GateH, '#000', 1.5)
], axis([1.2, 5.37], withMinor([1.91, 3, 4.02, 4.96], 3, 5).concat([1.3, 1.5, 1.7, 1.85, 2.2, 2.4, 2.62]), tens(p4XExp, '\u00a0\u00a0\u00a0', {1.91: '0'}), false, 8),
   axis([1.15, 5.38], [1.15, 1.5, 1.82, 2.2, 2.6, 3, 3.48, 3.7, 3.85, 3.95, 4.04, 4.5, 4.7, 4.85, 4.97, 5.3], tens(p4YExp, '\u00a0', {1.82: '0'}), true, 9), p4XExp, p4YExp);

makePlot('plot5', [
    area(p5UpperBlue, blue), area(p5LowerBlue, blue), dots(p5Dots, blue),
    area(p5UpperCyan, cyan), area(p5LowerCyan, cyan), area(p5Spring, spring), area(p5Green, green), area(p5Yellow, lime), area(p5Red, red),
    gate(p5GateV, '#000', 1.5), gate(p5GateH, '#000', 1.5)
], axis([1.11, 5.37], withMinor([1.75, 3, 4, 5], 3, 5).concat([1.2, 1.4, 1.6, 2.1, 2.3, 2.6]), tens(p5XExp, '\u00a0\u00a0\u00a0', {1.75: '0'}), false, 8),
   axis([0.93, 5.42], withMinor([1.19, 2.03, 3, 3.99, 5.01, 0.93], 2, 5), tens(p5YExp, '\u00a0', {0.93: '0'}), true, 9), p5XExp, p5YExp);

// text around the plots: html, centre x, centre y, class, rotated
const texts = [
    ['SSC', 42, 250, 'ax', 1], ['FSC', 82, 297, 'ax', 0],
    ['CD3', 422, 247, 'ax', 1], ['SSC', 463, 294, 'ax', 0],
    ['CD45', 812, 247, 'ax', 1], ['SSC', 853, 294, 'ax', 0],
    ['TCR-γδ', 20, 613, 'ax', 1], ['TCR-<i>α</i>β', 79, 678, 'ax', 0],
    ['CD3', 648, 628, 'ax', 1], ['CD20', 697, 673, 'ax', 0],
    ['P1+P2+P3', 222, 350, 'title', 0], ['P1+P3', 838, 350, 'title', 0],
    ['TCR-<i>α</i>β<sup>+</sup>', 478, 383, 'hit', 0],
    ['CD20<sup>+</sup>', 1100, 383, 'hit', 0],
    ['26/500,000×100', 478, 414, 'calc', 0], ['=', 478, 445, 'calc', 0], ['0.0052%', 474, 475, 'calc2', 0],
    ['23/500,000×100', 1100, 414, 'calc', 0], ['=', 1100, 445, 'calc', 0], ['0.0046%', 1096, 475, 'calc2', 0],
    ['P1', 248, 232, 'gate', 0], ['P2', 506, 58, 'gate', 0], ['P3', 1033, 167, 'gate', 0],
    ['M', 861, 258, 'm', 0], ['M', 80, 623, 'm', 0], ['M', 697, 624, 'm', 0],
    ['-304', 846, 241, 'small', 1], ['-304', 63, 607, 'small', 1], ['-487', 92, 642, 'small', 0], ['-304', 709, 643, 'small', 0]
];
const holder = document.getElementById('texts');
texts.forEach(([html, x, y, cls, rot]) => {
    const el = document.createElement('div');
    el.className = 't ' + cls;
    el.innerHTML = html;
    el.style.left = x + 'px';
    el.style.top = y + 'px';
    el.style.transform = 'translate(-50%,-50%)' + (rot ? ' rotate(-90deg)' : '');
    holder.appendChild(el);
});
</script>
</body>
</html>
